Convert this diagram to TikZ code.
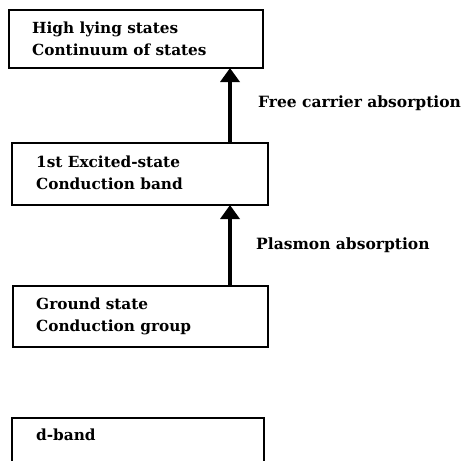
\documentclass[tikz,border=0pt]{standalone}
\usepackage{fontspec}
\setmainfont{DejaVu Serif}
\usetikzlibrary{arrows.meta}
\begin{document}
\begin{tikzpicture}[x=1pt,y=-1pt,
  box/.style={draw=black, line width=1.8pt, fill=white},
  txt/.style={font=\bfseries\fontsize{15.3}{22}\selectfont, align=left, anchor=west, inner sep=0pt},
  lbl/.style={font=\bfseries\fontsize{15.5}{22}\selectfont, anchor=west, inner sep=0pt},
  uparrow/.style={line width=4.5pt, -{Triangle[width=19pt,length=14pt]}}
]
\useasboundingbox (0,0) rectangle (470,460);
\clip (0,0) rectangle (470,460);
% boxes
\draw[box] (9,10) rectangle (263,68);
\coordinate (b1s) at (230,68);
\node[txt] (t1) at (32,39) {High lying states\\Continuum of states};

\draw[box] (12,143) rectangle (268,205);
\coordinate (b2n) at (230,143);
\coordinate (b2s) at (230,205);
\node[txt] (t2) at (36,173) {1st Excited-state\\Conduction band};

\draw[box] (13,286) rectangle (268,347);
\coordinate (b3n) at (230,286);
\node[txt] (t3) at (36,316.5) {Ground state\\Conduction group};

\draw[box] (12,418) rectangle (264,480);
\node[txt] (t4) at (36,435) {d-band};

% arrows
\draw[uparrow] (b2n) -- (b1s);
\draw[uparrow] (b3n) -- (b2s);

\node[lbl] (l1) at (258,103) {Free carrier absorption};
\node[lbl] (l2) at (256,245) {Plasmon absorption};
\end{tikzpicture}
\end{document}
